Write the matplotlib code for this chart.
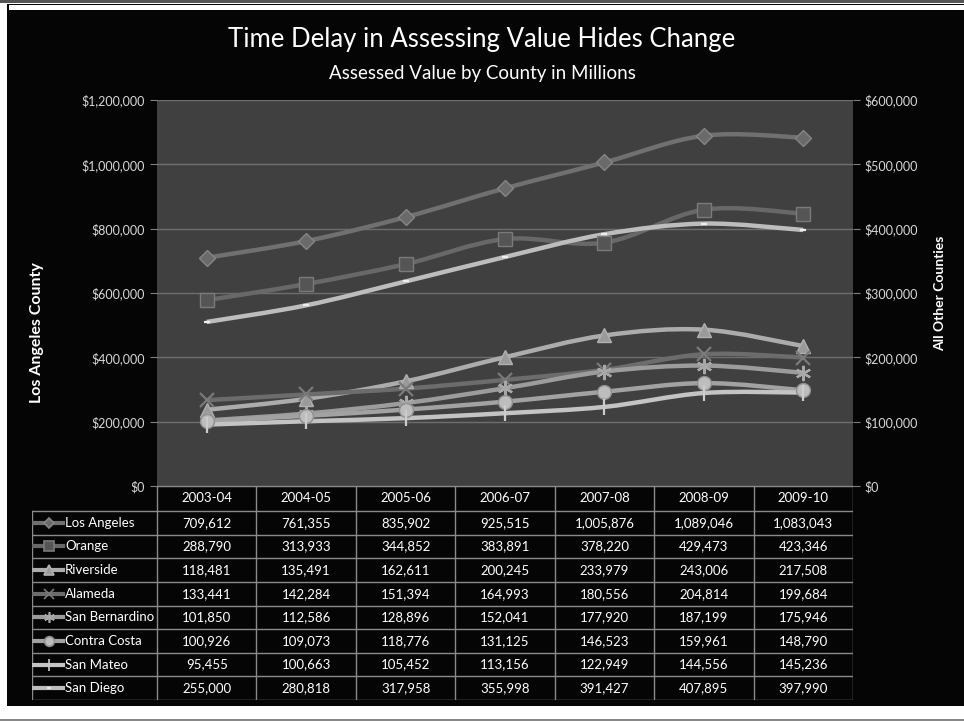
import matplotlib
matplotlib.use("Agg")
import matplotlib.pyplot as plt
from matplotlib.path import Path
from matplotlib.patches import PathPatch, Rectangle
from matplotlib.lines import Line2D
import numpy as np

# ---------------- data ----------------
years = ["2003-04", "2004-05", "2005-06", "2006-07", "2007-08", "2008-09", "2009-10"]
counties = ["Los Angeles", "Orange", "Riverside", "Alameda", "San Bernardino",
            "Contra Costa", "San Mateo", "San Diego"]
los_angeles = [709612, 761355, 835902, 925515, 1005876, 1089046, 1083043]
orange = [288790, 313933, 344852, 383891, 378220, 429473, 423346]
riverside = [118481, 135491, 162611, 200245, 233979, 243006, 217508]
alameda = [133441, 142284, 151394, 164993, 180556, 204814, 199684]
san_bernardino = [101850, 112586, 128896, 152041, 177920, 187199, 175946]
contra_costa = [100926, 109073, 118776, 131125, 146523, 159961, 148790]
san_mateo = [95455, 100663, 105452, 113156, 122949, 144556, 145236]
san_diego = [255000, 280818, 317958, 355998, 391427, 407895, 397990]
series = [los_angeles, orange, riverside, alameda, san_bernardino,
          contra_costa, san_mateo, san_diego]
left_ticks = [0, 200000, 400000, 600000, 800000, 1000000, 1200000]
right_ticks = [0, 100000, 200000, 300000, 400000, 500000, 600000]

# ---------------- styles ----------------
styles = [
    dict(color="#707070", marker="D", mfc="#6a6a6a", mec="#858585", ms=8),
    dict(color="#686868", marker="s", mfc="#555555", mec="#7a7a7a", ms=10),
    dict(color="#acacac", marker="^", mfc="#9a9a9a", mec="#b0b0b0", ms=10),
    dict(color="#6c6c6c", marker="x", mfc="#7a7a7a", mec="#7a7a7a", ms=10),
    dict(color="#9c9c9c", marker=(6, 2, 0), mfc="#a0a0a0", mec="#a8a8a8", ms=11),
    dict(color="#a2a2a2", marker="o", mfc="#bdbdbd", mec="#909090", ms=10),
    dict(color="#c4c4c4", marker="|", mfc="#cccccc", mec="#cccccc", ms=12),
    dict(color="#bdbdbd", marker="_", mfc="#eeeeee", mec="#eeeeee", ms=5),
]

FONT = ["Lato", "DejaVu Sans"]
plt.rcParams["font.family"] = FONT

W, H = 964, 721
fig = plt.figure(figsize=(W / 100, H / 100), dpi=100, facecolor="white")

def frect(x0, y0, x1, y1):
    return [x0 / W, 1 - y1 / H, (x1 - x0) / W, (y1 - y0) / H]

# background frame
bg = fig.add_axes([0, 0, 1, 1])
bg.set_xlim(0, W)
bg.set_ylim(H, 0)
bg.axis("off")
bg.add_patch(Rectangle((7, 4), W - 7, 702, facecolor="#050505", edgecolor="none"))
bg.add_patch(Rectangle((9, 5), W - 9, 5, facecolor="white", edgecolor="none"))
bg.add_patch(Rectangle((0, 0), W, 2.5, facecolor="#555555", edgecolor="none"))
bg.add_patch(Rectangle((0, 719), W, 2, facecolor="#888888", edgecolor="none"))

fig.text(0.5, 1 - 39 / H, "Time Delay in Assessing Value Hides Change", color="white",
         fontsize=18.5, ha="center", va="center")
fig.text(0.5, 1 - 73 / H, "Assessed Value by County in Millions", color="white",
         fontsize=13.5, ha="center", va="center")

# ---------------- main plot ----------------
PL, PR, PT, PB = 157, 853, 100, 486
ax = fig.add_axes(frect(PL, PT, PR, PB))
ax.set_facecolor("#404040")
ax.set_xlim(0, len(years))
ax.set_ylim(0, 1200000)
ax.set_yticks(left_ticks)
ax.set_yticklabels(["${:,}".format(v) for v in left_ticks])
ax.set_xticks([])
ax.grid(axis="y", color="#6e6e6e", linewidth=1)
ax.set_axisbelow(True)
for s in ["top", "right", "left"]:
    ax.spines[s].set_visible(False)
ax.spines["bottom"].set_color("#808080")
ax.tick_params(axis="y", colors="#808080", labelcolor="#d8d8d8", labelsize=9, length=5)

ax2 = ax.twinx()
ax2.set_ylim(0, 600000)
ax2.set_yticks(right_ticks)
ax2.set_yticklabels(["${:,}".format(v) for v in right_ticks])
for s in ["top", "right", "left", "bottom"]:
    ax2.spines[s].set_visible(False)
ax2.tick_params(axis="y", colors="#808080", labelcolor="#d8d8d8", labelsize=9, length=5)

fig.text(37 / W, 1 - 333 / H, "Los Angeles County", color="white", fontsize=11.5,
         fontweight="bold", rotation=90, ha="center", va="center")
fig.text(940 / W, 1 - 293 / H, "All Other Counties", color="white", fontsize=10,
         fontweight="bold", rotation=90, ha="center", va="center")

xs = np.arange(len(years)) + 0.5

def smooth_path(x, y):
    pts = np.column_stack([x, y]).astype(float)
    n = len(pts)
    verts = [pts[0]]
    codes = [Path.MOVETO]
    for i in range(n - 1):
        p0 = pts[i - 1] if i > 0 else pts[i]
        p1 = pts[i]
        p2 = pts[i + 1]
        p3 = pts[i + 2] if i + 2 < n else pts[i + 1]
        c1 = p1 + (p2 - p0) / 6.0
        c2 = p2 - (p3 - p1) / 6.0
        verts += [c1, c2, p2]
        codes += [Path.CURVE4] * 3
    return Path(verts, codes)

for idx, (vals, st) in enumerate(zip(series, styles)):
    target = ax if idx == 0 else ax2
    patch = PathPatch(smooth_path(xs, vals), facecolor="none", edgecolor=st["color"],
                      linewidth=3.2, zorder=3 + idx * 0.1)
    target.add_patch(patch)
    target.plot(xs, vals, linestyle="none", marker=st["marker"], markersize=st["ms"],
                markerfacecolor=st["mfc"], markeredgecolor=st["mec"],
                markeredgewidth=1.6 if st["marker"] in ("x", "|", "_", (6, 2, 0)) else 1,
                zorder=4 + idx * 0.1)

# ---------------- data table ----------------
TL, TT, TB = 32, 486, 700
HDR = 511
colw = (PR - PL) / len(years)
tax = fig.add_axes(frect(TL, TT, PR, TB))
tax.set_xlim(TL, PR)
tax.set_ylim(TB, TT)
tax.axis("off")
grid_c = "#8a8a8a"
nrows = len(counties)
rowh = (TB - HDR) / nrows
for j in range(len(years) + 1):
    x = PL + j * colw
    tax.plot([x, x], [TT, TB], color=grid_c, lw=1)
tax.plot([TL, TL], [HDR, TB], color=grid_c, lw=1)
tax.plot([PL, PR], [TT, TT], color=grid_c, lw=1)
for i in range(nrows + 1):
    y = HDR + i * rowh
    tax.plot([TL, PR], [y, y], color=grid_c, lw=1)
for j, yr in enumerate(years):
    tax.text(PL + (j + 0.5) * colw, (TT + HDR) / 2, yr, color="white", fontsize=9.5,
             ha="center", va="center")
for i, (name, vals, st) in enumerate(zip(counties, series, styles)):
    yc = HDR + (i + 0.5) * rowh
    tax.add_line(Line2D([34, 63], [yc, yc], color=st["color"], lw=3))
    tax.plot([48.5], [yc], linestyle="none", marker=st["marker"], markersize=st["ms"] * 0.7,
             markerfacecolor=st["mfc"], markeredgecolor=st["mec"], markeredgewidth=1.2)
    tax.text(65, yc, name, color="white", fontsize=9.5, ha="left", va="center")
    for j, v in enumerate(vals):
        tax.text(PL + (j + 0.5) * colw, yc, "{:,}".format(v), color="white",
                 fontsize=9.5, ha="center", va="center")

fig.savefig("out.png", dpi=100, facecolor="white")
